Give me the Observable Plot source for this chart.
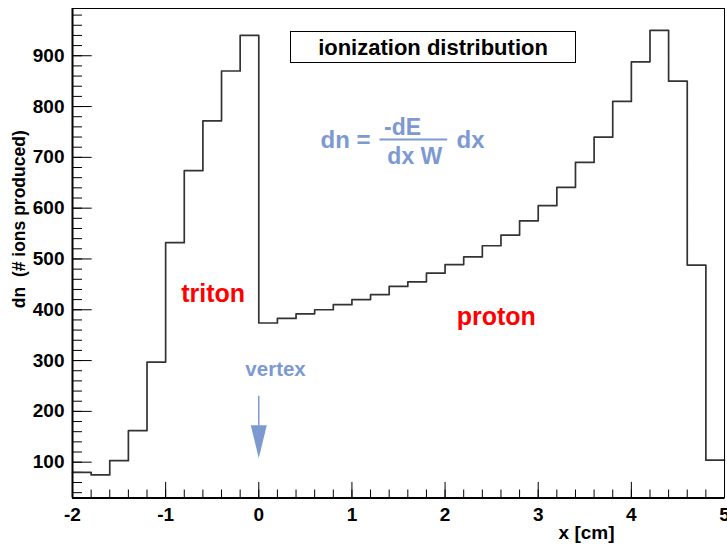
<!DOCTYPE html>
<html>
<head>
<meta charset="utf-8">
<script src="https://cdn.jsdelivr.net/npm/d3@7"></script>
<script src="https://cdn.jsdelivr.net/npm/@observablehq/plot@0.6"></script>
<style>
  html, body { margin: 0; padding: 0; background: #fff; }
  #wrap { position: relative; width: 727px; height: 550px; overflow: hidden; }
  #wrap svg text { white-space: pre; }
  #title {
    position: absolute; left: 290px; top: 31px; width: 286px; height: 32px;
    box-sizing: border-box; border: 1px solid #000; background: #fff;
    font: bold 22px "Liberation Sans", Arial, Helvetica, sans-serif;
    text-align: center; line-height: 30px; padding-top: 1px; color: #000;
  }
</style>
</head>
<body>
<div id="wrap">
  <div id="chart"></div>
  <div id="title">ionization distribution</div>
</div>
<script>
// ---- data ----
const binLow = [-2.0, -1.8, -1.6, -1.4, -1.2, -1.0, -0.8, -0.6, -0.4, -0.2,
                 0.0, 0.2, 0.4, 0.6, 0.8, 1.0, 1.2, 1.4, 1.6, 1.8,
                 2.0, 2.2, 2.4, 2.6, 2.8, 3.0, 3.2, 3.4, 3.6, 3.8,
                 4.0, 4.2, 4.4, 4.6, 4.8];
const binHigh = 5.0;
const ions = [80, 75, 103, 162, 297, 532, 674, 772, 870, 940,
              374, 383, 392, 400, 410, 420, 430, 446, 455, 472,
              489, 504, 526, 547, 575, 605, 641, 690, 740, 810,
              888, 950, 850, 488, 104];

const xTicks = [-2, -1, 0, 1, 2, 3, 4, 5];
const yTicks = [100, 200, 300, 400, 500, 600, 700, 800, 900];
const yMinorTicks = d3.range(40, 981, 20);
const xDomain = [-2, 5];
const yDomain = [29.5, 993];

const particleLabels = [
  {text: "triton", x: -0.49, y: 431},
  {text: "proton", x: 2.55, y: 385}
];
const vertexLabel = [{text: "vertex", x: 0.18, y: 282}];
const vertexArrow = [{x: 0, yTail: 231, yHeadBase: 172, yHeadMid: 140}];
const formulaMain = [
  {text: "dn =", x: 0.663, y: 733},
  {text: "dx", x: 2.123, y: 733}
];
const formulaFrac = [
  {text: "-dE", x: 1.543, y: 759},
  {text: "dx W", x: 1.675, y: 702}
];
const fracBar = [{x1: 1.296, x2: 2.023, y: 735}];

const blue = "#7d99d1";
const red = "#ff0000";
const font = "'Liberation Sans', Arial, Helvetica, sans-serif";

// build histogram outline points (step-after)
const histPts = binLow.map((x, i) => ({x, v: ions[i]}));
histPts.push({x: binHigh, v: ions[ions.length - 1]});

const W = 727, H = 550, mL = 72, mR = 3, mT = 8, mB = 52.5;
const frameW = W - mL - mR, frameH = H - mT - mB;

const headSymbol = {
  draw(ctx) {
    ctx.moveTo(-8, -16.5);
    ctx.lineTo(8, -16.5);
    ctx.lineTo(0, 16.5);
    ctx.closePath();
  }
};

const chart = Plot.plot({
  width: W, height: H,
  marginLeft: mL, marginRight: mR, marginTop: mT, marginBottom: mB,
  x: {domain: xDomain},
  y: {domain: yDomain},
  style: {fontFamily: font, fontSize: "19px", fontWeight: "bold", background: "#fff", color: "#000", overflow: "visible"},
  marks: [
    // minor / major ticks, drawn inside the frame
    Plot.ruleX(binLow.concat([binHigh]), {stroke: "#000", strokeWidth: 1, insetTop: frameH - 8}),
    Plot.ruleX(xTicks, {stroke: "#000", strokeWidth: 1, insetTop: frameH - 15.6}),
    Plot.ruleY(yMinorTicks, {stroke: "#000", strokeWidth: 1, insetRight: frameW - 10}),
    Plot.ruleY(yTicks, {stroke: "#000", strokeWidth: 1, insetRight: frameW - 19.7}),
    // histogram outline
    Plot.line(histPts, {x: "x", y: "v", curve: "step-after", stroke: "#333", strokeWidth: 1.7}),
    // frame
    Plot.frame({stroke: "#000", strokeWidth: 1}),
    Plot.ruleX([xDomain[0]], {stroke: "#000", strokeWidth: 2}),
    Plot.ruleY([yDomain[0]], {stroke: "#000", strokeWidth: 2}),
    // tick labels
    Plot.axisX(xTicks, {tickSize: 0, tickPadding: 9, tickFormat: d => String(d), label: null, fontSize: 19, fontWeight: "bold"}),
    Plot.axisY(yTicks, {tickSize: 0, tickPadding: 8, label: null, fontSize: 19, fontWeight: "bold"}),
    // axis titles
    Plot.text(["x [cm]"], {frameAnchor: "bottom-right", dx: -110, dy: 40.5, textAnchor: "end", fontSize: 19, fontWeight: "bold"}),
    Plot.text(["dn  (# ions produced)"], {frameAnchor: "left", textAnchor: "middle", rotate: -90, dx: -53, dy: -34, fontSize: 17.5, fontWeight: "bold"}),
    // annotations
    Plot.text(particleLabels, {x: "x", y: "y", text: "text", fill: red, fontSize: 25, fontWeight: "bold"}),
    Plot.text(vertexLabel, {x: "x", y: "y", text: "text", fill: blue, fontSize: 20.5, fontWeight: "bold"}),
    Plot.link(vertexArrow, {x1: "x", x2: "x", y1: "yTail", y2: "yHeadBase", stroke: blue, strokeWidth: 1.5}),
    Plot.dot(vertexArrow, {x: "x", y: "yHeadMid", symbol: headSymbol, fill: blue, stroke: null}),
    Plot.text(formulaMain, {x: "x", y: "y", text: "text", fill: blue, textAnchor: "start", fontSize: 24, fontWeight: "bold"}),
    Plot.text(formulaFrac, {x: "x", y: "y", text: "text", fill: blue, fontSize: 23, fontWeight: "bold"}),
    Plot.link(fracBar, {x1: "x1", x2: "x2", y1: "y", y2: "y", stroke: blue, strokeWidth: 2})
  ]
});
document.getElementById("chart").appendChild(chart);
</script>
</body>
</html>
